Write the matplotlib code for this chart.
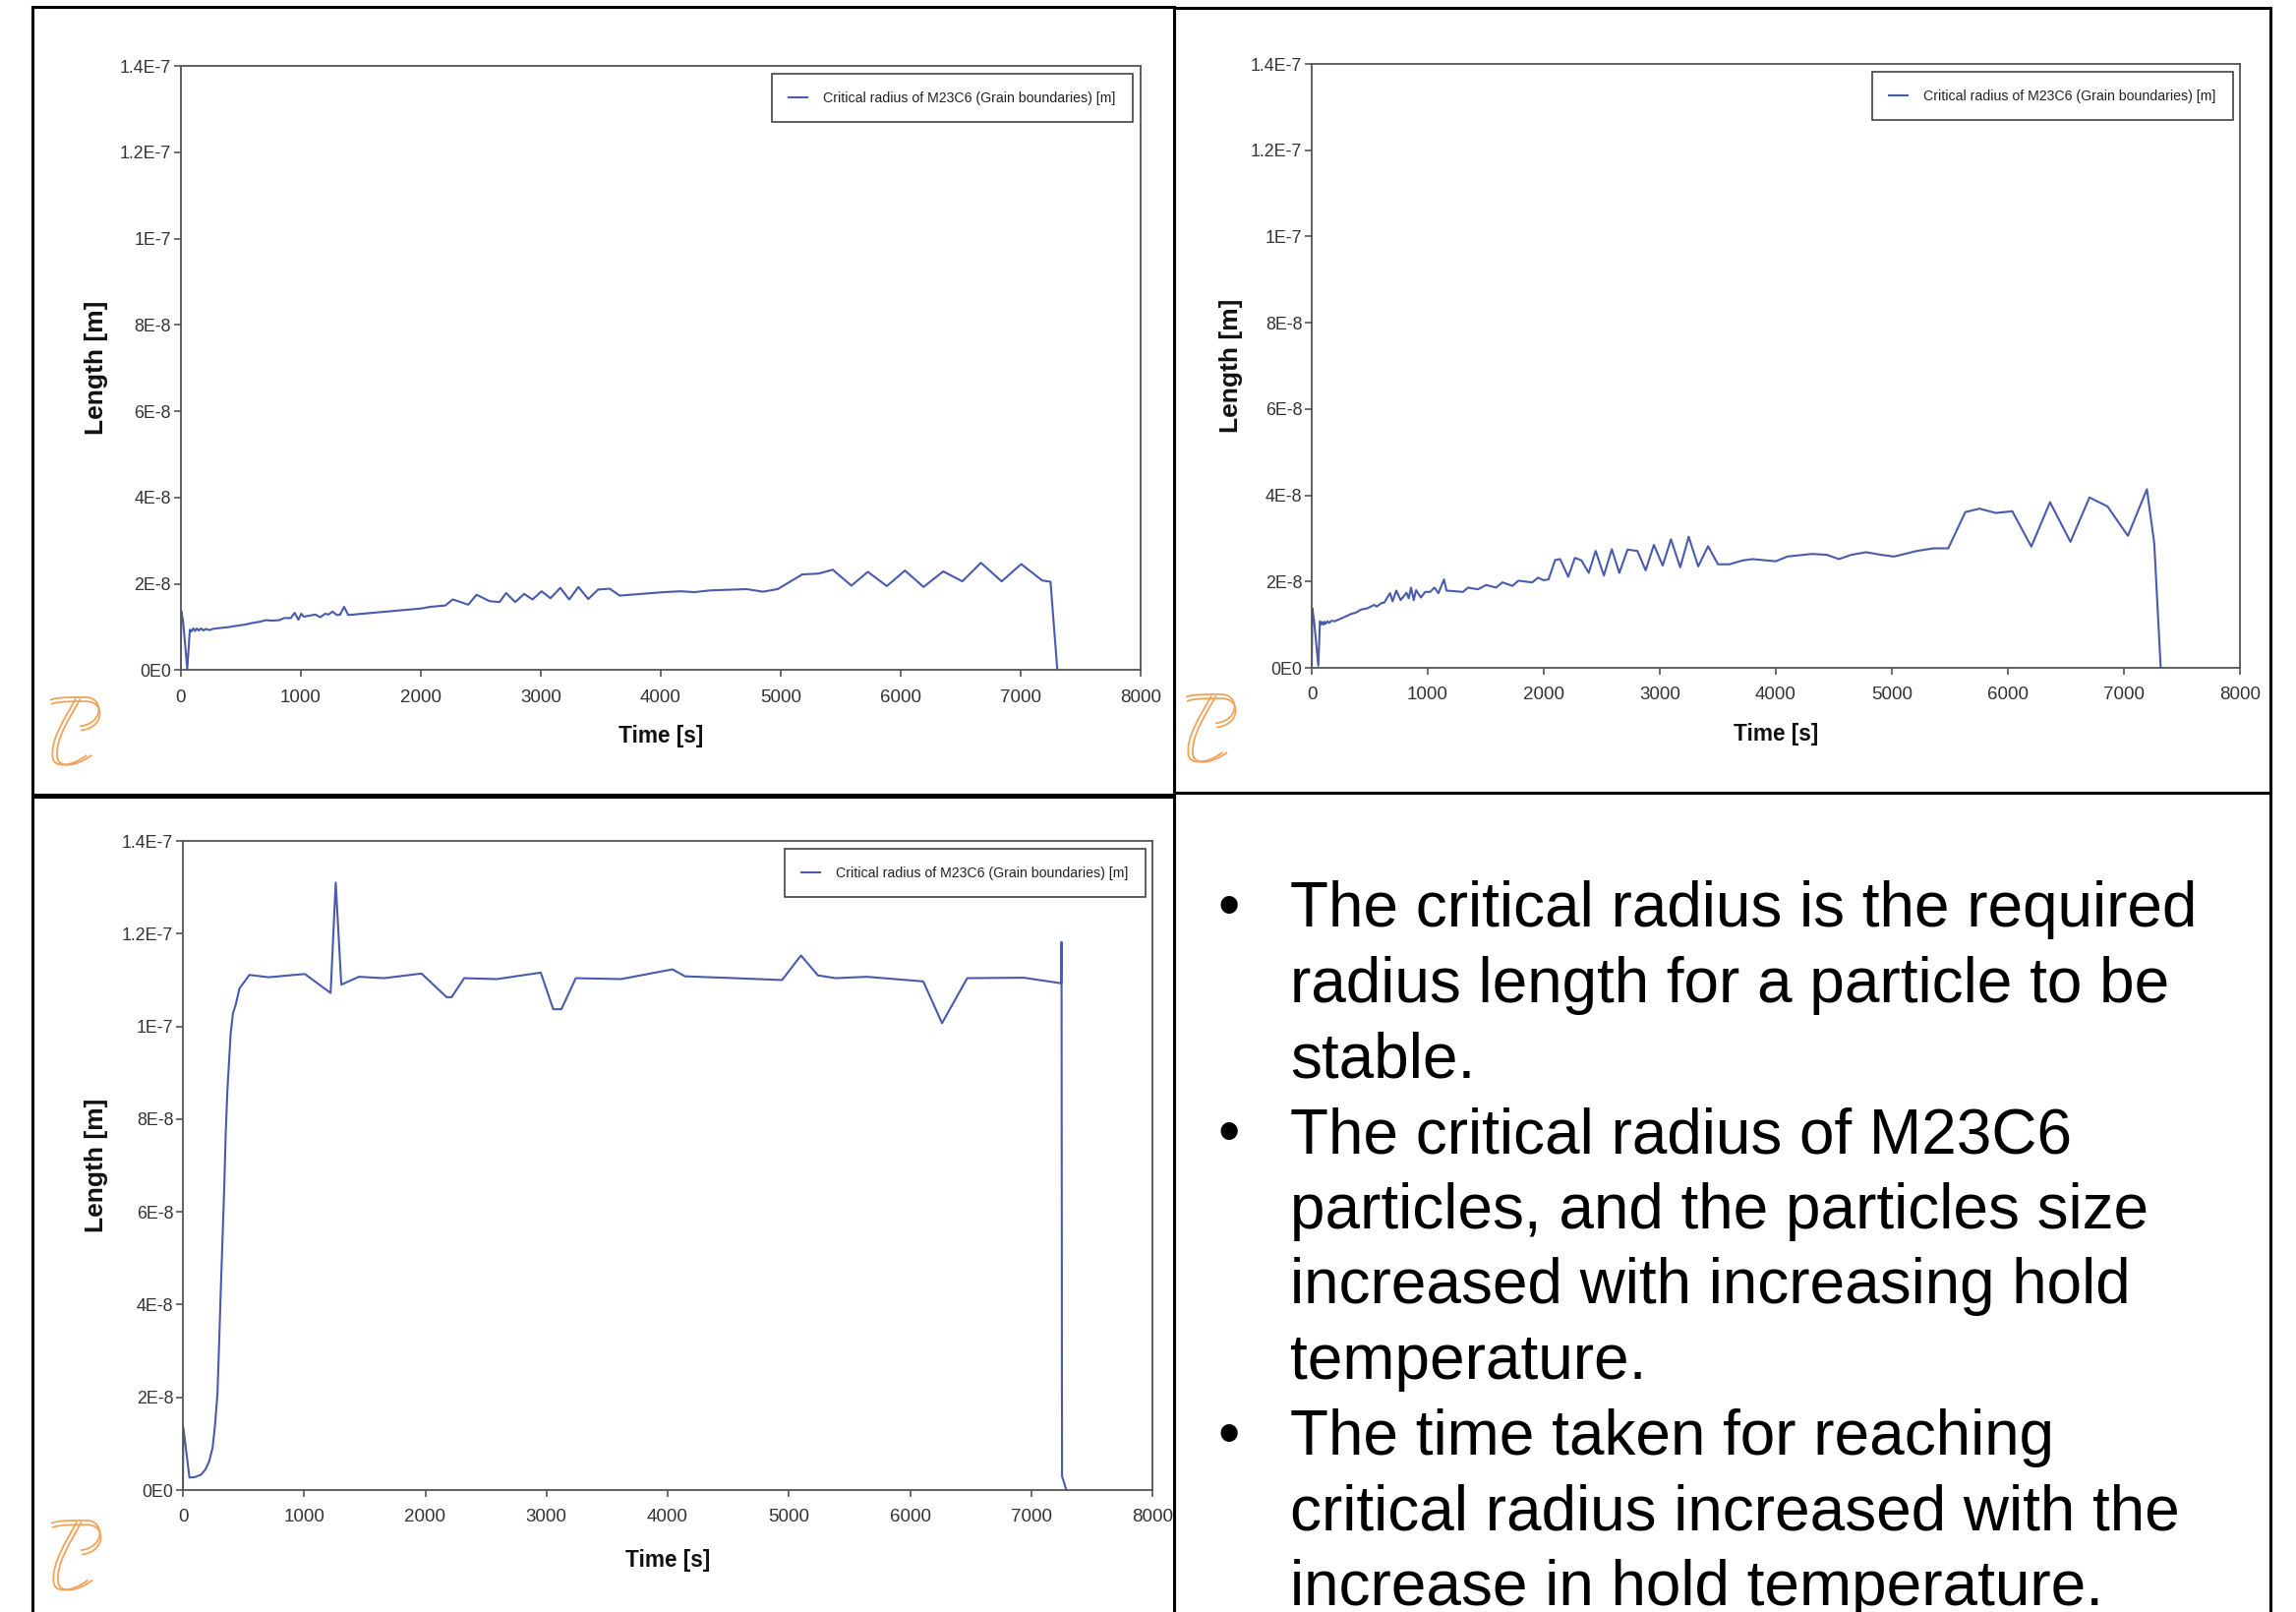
import numpy as np
import matplotlib
matplotlib.use("Agg")
import matplotlib.pyplot as plt
from matplotlib import font_manager
from matplotlib.font_manager import FontProperties
from matplotlib.patches import Rectangle, PathPatch
from matplotlib.path import Path

# ---------------- data (radius values in units of 1e-8 m) ----------------
TIME_A = [0, 5, 20, 55, 77, 90, 105, 120, 135, 150, 170, 190, 210, 240, 270, 329, 400, 466, 540,
          603, 650, 712, 760, 822, 863, 918, 951, 981, 1005, 1027, 1080, 1123, 1164, 1205, 1233,
          1266, 1301, 1329, 1362, 1397, 1836, 2000, 2082, 2205, 2268, 2397, 2466, 2575, 2658,
          2712, 2789, 2863, 2932, 3008, 3082, 3164, 3238, 3315, 3397, 3479, 3575, 3658, 4027,
          4169, 4279, 4415, 4716, 4852, 4975, 5180, 5317, 5434, 5590, 5727, 5885, 6036, 6191,
          6355, 6514, 6669, 6842, 7005, 7180, 7249, 7306]
RADIUS_A = [0.0, 1.37, 1.15, 0.03, 0.94, 0.90, 0.97, 0.91, 0.97, 0.92, 0.97, 0.92, 0.96, 0.93,
            0.96, 0.98, 1.00, 1.03, 1.06, 1.10, 1.12, 1.16, 1.15, 1.16, 1.21, 1.21, 1.33, 1.17,
            1.31, 1.24, 1.27, 1.29, 1.23, 1.31, 1.29, 1.36, 1.28, 1.29, 1.47, 1.28, 1.39, 1.43,
            1.47, 1.50, 1.64, 1.52, 1.75, 1.60, 1.58, 1.79, 1.58, 1.77, 1.64, 1.83, 1.67, 1.91,
            1.64, 1.93, 1.65, 1.87, 1.89, 1.73, 1.81, 1.83, 1.81, 1.85, 1.88, 1.82, 1.88, 2.22,
            2.24, 2.33, 1.96, 2.28, 1.95, 2.31, 1.93, 2.29, 2.06, 2.49, 2.06, 2.46, 2.08, 2.05,
            0.0]

TIME_B = [0, 5, 20, 57, 71, 80, 90, 100, 110, 120, 135, 150, 170, 198, 250, 300, 340, 380, 425,
          480, 539, 560, 600, 624, 675, 697, 729, 766, 817, 836, 856, 879, 899, 941, 978, 1021,
          1058, 1092, 1140, 1162, 1304, 1347, 1432, 1503, 1588, 1644, 1730, 1781, 1900, 1951,
          1999, 2041, 2098, 2141, 2211, 2268, 2325, 2387, 2447, 2518, 2586, 2651, 2722, 2807,
          2878, 2949, 3025, 3096, 3176, 3249, 3331, 3416, 3501, 3601, 3714, 3799, 4000, 4099,
          4311, 4439, 4543, 4651, 4778, 4906, 5019, 5217, 5359, 5486, 5633, 5755, 5896, 6038,
          6202, 6363, 6539, 6703, 6859, 7034, 7198, 7261, 7317]
RADIUS_B = [0.0, 1.38, 1.10, 0.05, 1.08, 1.00, 1.06, 1.00, 1.07, 1.02, 1.08, 1.04, 1.09, 1.08,
            1.14, 1.20, 1.25, 1.28, 1.35, 1.38, 1.46, 1.42, 1.50, 1.51, 1.73, 1.54, 1.79, 1.57,
            1.74, 1.61, 1.86, 1.57, 1.80, 1.63, 1.76, 1.76, 1.86, 1.73, 2.05, 1.79, 1.76, 1.86,
            1.82, 1.92, 1.86, 1.98, 1.90, 2.02, 1.98, 2.09, 2.03, 2.05, 2.50, 2.52, 2.11, 2.55,
            2.49, 2.20, 2.71, 2.14, 2.75, 2.20, 2.74, 2.71, 2.26, 2.85, 2.37, 2.98, 2.33, 3.04,
            2.35, 2.82, 2.40, 2.40, 2.49, 2.52, 2.47, 2.58, 2.64, 2.62, 2.52, 2.62, 2.68, 2.62,
            2.58, 2.71, 2.77, 2.77, 3.61, 3.69, 3.59, 3.63, 2.81, 3.84, 2.92, 3.95, 3.74, 3.06,
            4.14, 2.90, 0.0]

TIME_C = [0, 3, 54, 100, 149, 185, 217, 245, 266, 285, 299, 312, 326, 340, 353, 367, 394, 413,
          435, 467, 549, 707, 1006, 1219, 1261, 1307, 1452, 1659, 1969, 2176, 2217, 2321, 2591,
          2953, 3056, 3123, 3242, 3615, 4039, 4143, 4453, 4944, 5100, 5240, 5385, 5643, 6109,
          6264, 6472, 6937, 7247, 7250, 7254, 7290]
RADIUS_C = [0.0, 1.36, 0.27, 0.28, 0.33, 0.44, 0.62, 0.91, 1.42, 2.07, 3.16, 4.25, 5.34, 6.43,
            7.66, 8.61, 9.84, 10.28, 10.46, 10.82, 11.11, 11.06, 11.13, 10.72, 13.10, 10.90,
            11.07, 11.04, 11.14, 10.63, 10.63, 11.04, 11.02, 11.16, 10.37, 10.37, 11.04, 11.02,
            11.23, 11.08, 11.05, 11.00, 11.53, 11.10, 11.04, 11.07, 10.97, 10.07, 11.04, 11.05,
            10.93, 11.82, 0.30, 0.0]

X_TICKS = [0, 1000, 2000, 3000, 4000, 5000, 6000, 7000, 8000]
Y_TICKS = [0.0, 2e-8, 4e-8, 6e-8, 8e-8, 1e-7, 1.2e-7, 1.4e-7]
Y_TICK_LABELS = ["0E0", "2E-8", "4E-8", "6E-8", "8E-8", "1E-7", "1.2E-7", "1.4E-7"]
LEGEND_LABEL = "Critical radius of M23C6 (Grain boundaries) [m]"
X_LABEL = "Time [s]"
Y_LABEL = "Length [m]"

TEXT_LINES = [
    "The critical radius is the required",
    "radius length for a particle to be",
    "stable.",
    "The critical radius of M23C6",
    "particles, and the particles size",
    "increased with increasing hold",
    "temperature.",
    "The time taken for reaching",
    "critical radius increased with the",
    "increase in hold temperature.",
]
BULLET_LINES = [0, 3, 7]

# ---------------- styling ----------------
W, H = 2335, 1639
names = {f.name for f in font_manager.fontManager.ttflist}
NARROW = "Liberation Sans Narrow" if "Liberation Sans Narrow" in names else "Liberation Sans"
IS_NARROW = NARROW == "Liberation Sans Narrow"
WIDE = "Liberation Sans"
LINE_COLOR = "#4a5aad"
SPINE_COLOR = "#555555"
TICK_COLOR = "#333333"
LOGO_COLOR = "#f4a25a"
XTICK_FS = 15 if IS_NARROW else 13.5
YTICK_FS = 15 if IS_NARROW else 12.8
LEG_FS = 13 if IS_NARROW else 10.2
XLAB_FS = 19 if IS_NARROW else 16.3

fig = plt.figure(figsize=(W / 100, H / 100), dpi=100)
fig.patch.set_facecolor("white")


def fx(px):
    return px / W


def fy(py):
    return 1 - py / H


def make_axes(left, top, right, bottom):
    return fig.add_axes([fx(left), fy(bottom), (right - left) / W, (bottom - top) / H])


def style_chart(ax, t, r, box, xlab_y, ylab_x, leg_gap):
    left, top, right, bottom = box
    wpx, hpx = right - left, bottom - top
    ax.plot(np.asarray(t), np.asarray(r) * 1e-8, color=LINE_COLOR, lw=1.5, label=LEGEND_LABEL)
    ax.set_xlim(0, 8000)
    ax.set_ylim(0, 1.4e-7)
    ax.set_xticks(X_TICKS, [str(v) for v in X_TICKS])
    ax.set_yticks(Y_TICKS, Y_TICK_LABELS)
    for sp in ax.spines.values():
        sp.set_color(SPINE_COLOR)
        sp.set_linewidth(1.3)
    ax.tick_params(axis="both", direction="out", length=5, width=1.2, color=SPINE_COLOR,
                   labelcolor=TICK_COLOR)
    ax.tick_params(axis="x", pad=9)
    ax.tick_params(axis="y", pad=2)
    for lab in ax.get_xticklabels():
        lab.set_fontfamily(NARROW)
        lab.set_fontsize(XTICK_FS)
    for lab in ax.get_yticklabels():
        lab.set_fontfamily(NARROW)
        lab.set_fontsize(YTICK_FS)
    ax.set_xlabel(X_LABEL, fontfamily=NARROW, fontweight="bold", fontsize=XLAB_FS, color="#111111")
    ax.set_ylabel(Y_LABEL, fontfamily=WIDE, fontweight="bold", fontsize=19, color="#111111")
    ax.xaxis.label.set_va("center")
    ax.yaxis.label.set_va("center")
    ax.xaxis.set_label_coords(0.5, (bottom - xlab_y) / hpx)
    ax.yaxis.set_label_coords((ylab_x - left) / wpx, 0.5)
    leg = ax.legend(loc="upper right",
                    bbox_to_anchor=(1 - leg_gap[0] / wpx, 1 - leg_gap[1] / hpx),
                    borderaxespad=0, frameon=True, fancybox=False, shadow=False,
                    prop=FontProperties(family=NARROW, size=LEG_FS),
                    handlelength=1.35, handletextpad=1.1, borderpad=1.25)
    leg.get_frame().set_edgecolor("black")
    leg.get_frame().set_linewidth(1.1)
    for txt in leg.get_texts():
        txt.set_color("#222222")


def draw_logo(x0, y0, w, h):
    def P(u, v):
        return (fx(x0 + u * w), fy(y0 + v * h))
    strokes = [
        ([Path.MOVETO, Path.CURVE4, Path.CURVE4, Path.CURVE4, Path.CURVE4, Path.CURVE4, Path.CURVE4],
         [(0.0, 0.04), (0.15, -0.01), (0.5, 0.0), (0.72, 0.0), (1.05, 0.02), (1.05, 0.38), (0.58, 0.42)]),
        ([Path.MOVETO, Path.CURVE4, Path.CURVE4, Path.CURVE4, Path.CURVE4, Path.CURVE4, Path.CURVE4],
         [(0.5, 0.02), (0.3, 0.3), (0.0, 0.6), (0.05, 0.88), (0.08, 1.02), (0.4, 1.02), (0.72, 0.84)]),
    ]
    offsets = [[(0, 0), (0.02, 0.06)], [(0, 0), (0.09, 0.0)]]
    for (codes, pts), offs in zip(strokes, offsets):
        for du, dv in offs:
            verts = [P(u + du, v + dv) for u, v in pts]
            fig.add_artist(PathPatch(Path(verts, codes), fill=False, edgecolor=LOGO_COLOR,
                                     lw=1.3, transform=fig.transFigure))


# ---------------- panel boxes ----------------
for (l, t, r, b) in [(33, 7, 1194, 808), (1194, 8, 2309, 806), (33, 810, 1194, 1660),
                     (1194, 806, 2309, 1660)]:
    fig.add_artist(Rectangle((fx(l), fy(b)), (r - l) / W, (b - t) / H, fill=False,
                             edgecolor="black", lw=2.2, transform=fig.transFigure, zorder=5))

# ---------------- charts ----------------
box1 = (183.7, 67, 1160, 681.5)
ax1 = make_axes(*box1)
style_chart(ax1, TIME_A, RADIUS_A, box1, 749, 98, (8, 8))

box2 = (1334, 65, 2278, 679)
ax2 = make_axes(*box2)
style_chart(ax2, TIME_B, RADIUS_B, box2, 747, 1252, (7, 8))

box3 = (186, 855, 1172, 1515)
ax3 = make_axes(*box3)
style_chart(ax3, TIME_C, RADIUS_C, box3, 1587, 98, (7, 8))

draw_logo(51, 709, 52, 70)
draw_logo(1206, 706, 52, 70)
draw_logo(52, 1546, 52, 72)

# ---------------- bullet text ----------------
for i, line in enumerate(TEXT_LINES):
    yb = 942 + i * 76.7
    fig.text(fx(1312), fy(yb), line, fontsize=46, fontfamily=WIDE, ha="left", va="baseline",
             color="black")
    if i in BULLET_LINES:
        fig.text(fx(1250), fy(yb), "\u2022", fontsize=46, fontfamily=WIDE, ha="center",
                 va="baseline", color="black")

fig.savefig("out.png", dpi=100, facecolor="white")
